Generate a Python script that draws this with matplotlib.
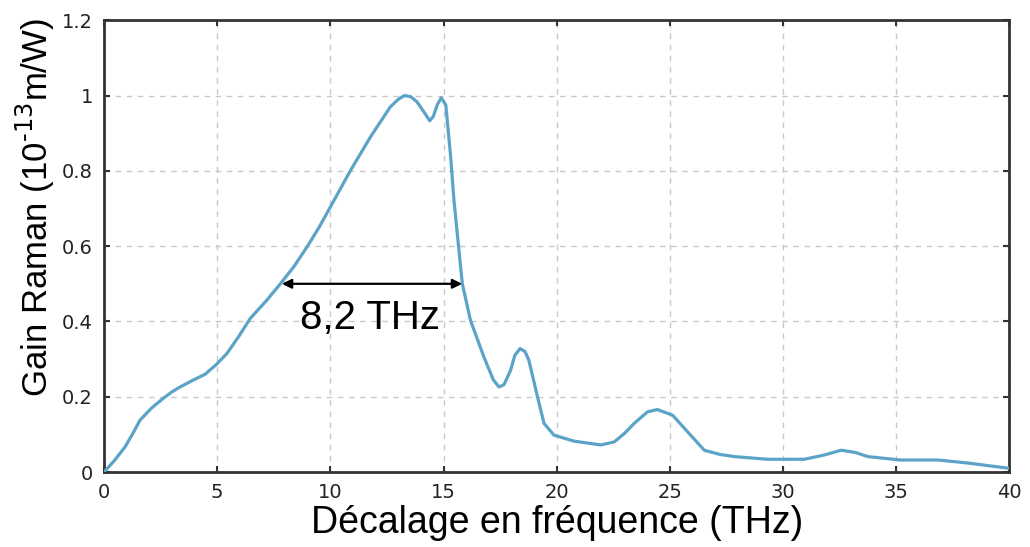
import matplotlib.pyplot as plt

plt.rcParams['font.family'] = ['Liberation Sans', 'DejaVu Sans']

# Spectre de gain Raman de la silice (valeurs relevées)
freq = [0, 0.45, 0.93, 1.25, 1.59, 2.1, 2.62, 3.0, 3.36, 3.9, 4.47, 4.95, 5.43,
        5.95, 6.46, 7.2, 7.79, 8.38, 8.97, 9.5, 10.0, 10.88, 11.77, 12.65, 13.0,
        13.27, 13.55, 13.83, 14.15, 14.39, 14.55, 14.72, 14.9, 15.1, 15.31, 15.46,
        15.68, 15.83, 16.19, 16.78, 17.2, 17.45, 17.67, 17.96, 18.15, 18.38, 18.6,
        18.77, 19.15, 19.44, 19.88, 20.77, 21.95, 22.54, 23.0, 23.42, 24.01, 24.45,
        25.12, 25.78, 26.52, 27.2, 27.85, 29.32, 30.94, 31.8, 32.57, 33.2, 33.75,
        35.2, 36.84, 38.17, 39.2, 40.0]
gain = [0, 0.03, 0.067, 0.1, 0.138, 0.17, 0.196, 0.213, 0.226, 0.243, 0.26, 0.285,
        0.315, 0.36, 0.408, 0.457, 0.50, 0.545, 0.598, 0.65, 0.704, 0.80, 0.89, 0.97,
        0.99, 1.0, 0.997, 0.983, 0.955, 0.933, 0.945, 0.975, 0.994, 0.975, 0.84, 0.722,
        0.589, 0.50, 0.403, 0.306, 0.245, 0.226, 0.232, 0.27, 0.31, 0.328, 0.32,
        0.297, 0.2, 0.129, 0.098, 0.082, 0.072, 0.08, 0.103, 0.129, 0.16, 0.166,
        0.151, 0.107, 0.058, 0.047, 0.041, 0.034, 0.034, 0.045, 0.058, 0.052, 0.041,
        0.032, 0.032, 0.024, 0.016, 0.01]

xticks = [0, 5, 10, 15, 20, 25, 30, 35, 40]
yticks = [0, 0.2, 0.4, 0.6, 0.8, 1.0, 1.2]
ytick_labels = ['0', '0.2', '0.4', '0.6', '0.8', '1', '1.2']

# largeur à mi-hauteur
fwhm_start, fwhm_end, fwhm_level = 7.86, 15.82, 0.5
fwhm_text = '8,2 THz'

fig = plt.figure(figsize=(10.3, 5.47), dpi=100)
ax = fig.add_axes([0.101, 0.137, 0.879, 0.826])

ax.plot(freq, gain, color='#5ba3c7', lw=2.3, zorder=3)

ax.annotate('', xy=(fwhm_start, fwhm_level), xytext=(fwhm_end, fwhm_level),
            arrowprops=dict(arrowstyle='<|-|>', color='black', lw=1.6,
                            mutation_scale=14, shrinkA=0, shrinkB=0), zorder=4)
ax.text((fwhm_start + fwhm_end) / 2 - 0.1, 0.41, fwhm_text, fontsize=29,
        ha='center', va='center')

ax.set_xlim(0, 40)
ax.set_ylim(0, 1.2)
ax.set_xticks(xticks)
ax.set_yticks(yticks)
ax.set_yticklabels(ytick_labels)
for lab in ax.get_xticklabels() + ax.get_yticklabels():
    lab.set_fontfamily('DejaVu Sans')
    lab.set_fontsize(14)
    lab.set_color('#222222')

ax.tick_params(direction='in', length=4, width=1.5, top=True, right=True,
               color='#333333', pad=8)
ax.grid(True, linestyle=(0, (4, 4)), color='#c8c8c8', lw=1)
for sp in ax.spines.values():
    sp.set_linewidth(2)
    sp.set_color('#333333')

ax.set_xlabel('Décalage en fréquence (THz)', fontsize=27, labelpad=2)
ax.set_ylabel('Gain Raman (10$^{\\text{-13}}$m/W)', fontsize=25)
ax.yaxis.set_label_coords(-0.052, 0.585)

fig.savefig('out.png', dpi=100)
